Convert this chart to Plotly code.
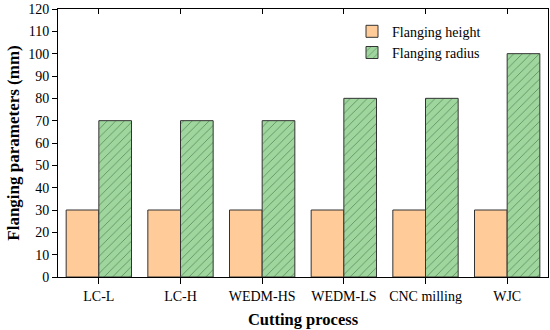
import plotly.graph_objects as go

categories = ["LC-L", "LC-H", "WEDM-HS", "WEDM-LS", "CNC milling", "WJC"]
flanging_height = [30, 30, 30, 30, 30, 30]
flanging_radius = [70, 70, 70, 80, 80, 100]
y_ticks = list(range(0, 121, 10))

font_family = "Liberation Serif, Times New Roman, serif"

fig = go.Figure()
fig.add_trace(go.Bar(
    x=categories, y=flanging_height, name="Flanging height",
    marker=dict(color="#FFCC99", line=dict(color="#333333", width=1)),
))
fig.add_trace(go.Bar(
    x=categories, y=flanging_radius, name="Flanging radius",
    marker=dict(color="#9ED69E", line=dict(color="#333333", width=1),
                pattern=dict(shape="/", fgcolor="#2A4A2A", size=6, solidity=0.15)),
))
# invisible trace to carry the mirrored top axis with inward ticks
fig.add_trace(go.Scatter(
    x=categories, y=[None] * len(categories), xaxis="x2", mode="markers",
    showlegend=False, hoverinfo="skip",
))

fig.update_layout(
    width=550, height=330,
    margin=dict(l=58, r=2, t=9, b=53, autoexpand=False),
    paper_bgcolor="white", plot_bgcolor="white",
    font=dict(family=font_family, size=13, color="black"),
    barmode="group", bargap=0.2, bargroupgap=0,
    showlegend=True,
    legend=dict(x=0.6, y=0.975, xanchor="left", yanchor="top",
                bgcolor="rgba(0,0,0,0)", font=dict(size=14, family=font_family),
                tracegroupgap=0, itemwidth=30),
    xaxis=dict(
        range=[-0.5, 5.5], showline=True, linecolor="black", linewidth=1,
        ticks="outside", ticklen=6, tickcolor="black", mirror=False,
        showgrid=False, zeroline=False, automargin=False,
        title=dict(text="<b>Cutting process</b>", font=dict(size=16.5), standoff=10),
        tickfont=dict(size=14),
    ),
    xaxis2=dict(
        overlaying="x", side="top", range=[-0.5, 5.5],
        showline=True, linecolor="black", linewidth=1,
        ticks="inside", ticklen=5, tickcolor="black", automargin=False,
        showticklabels=False, showgrid=False, zeroline=False,
    ),
    yaxis=dict(
        range=[0, 120], tickvals=y_ticks, showline=True, linecolor="black", linewidth=1,
        ticks="outside", ticklen=5, tickcolor="black", mirror=True,
        showgrid=False, zeroline=False, automargin=False,
        title=dict(text="<b>Flanging parameters (mm)</b>", font=dict(size=17), standoff=4),
        tickfont=dict(size=14),
    ),
)

fig.write_html(
    "out.html",
    config={"displayModeBar": False},
    post_script="document.body.style.margin='0px';document.body.style.overflow='hidden';",
)
